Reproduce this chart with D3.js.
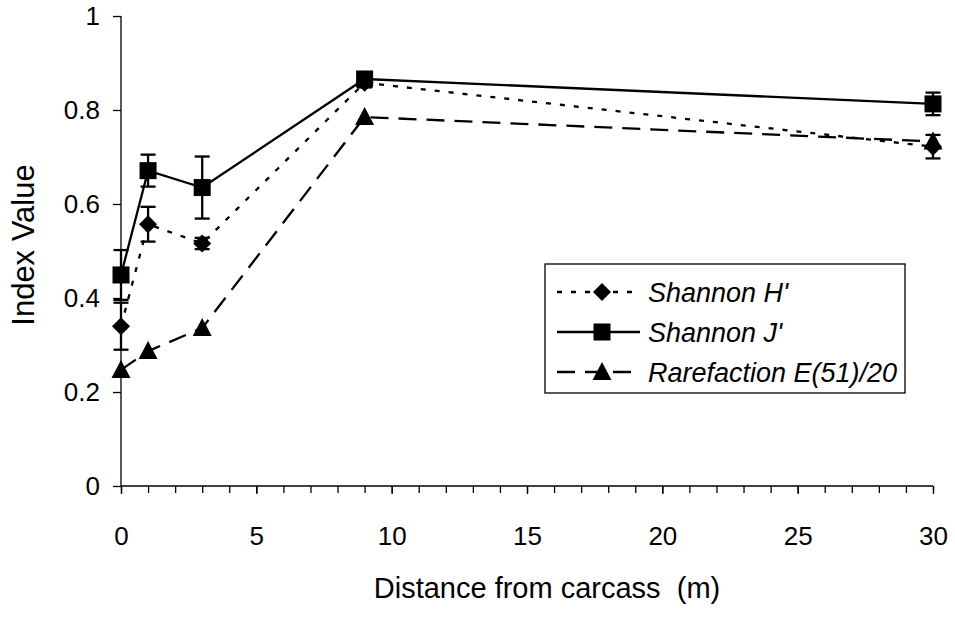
<!DOCTYPE html>
<html>
  <head>
    <meta charset="utf-8" />
    <title>Index Value</title>
    <script src="https://d3js.org/d3.v7.min.js"></script>
    <style>
        body{
            margin:0;
            background:#fff;
        }
        text{
            font-family: "Liberation Sans", Arial, sans-serif;
            fill:#000;
        }
    </style>
  </head>
  <body>
    <svg id="chart"></svg>

    <script>
      // data
      var distance = [0, 1, 3, 9, 30];
      var shannonH = [0.34, 0.557, 0.516, 0.858, 0.722];
      var shannonHErr = [0.05, 0.037, 0.012, 0.01, 0.025];
      var shannonJ = [0.449, 0.671, 0.635, 0.866, 0.813];
      var shannonJErr = [0.053, 0.034, 0.066, 0.01, 0.024];
      var rarefaction = [0.247, 0.287, 0.336, 0.785, 0.733];
      var seriesNames = ["Shannon H'", "Shannon J'", "Rarefaction E(51)/20"];
      var yTicks = [0, 0.2, 0.4, 0.6, 0.8, 1];
      var xTicks = [0, 5, 10, 15, 20, 25, 30];

      var width = 955;
      var height = 617;
      var margin = {top: 16, right: 22, bottom: 131, left: 121};

      var svg = d3.select("#chart")
        .attr("width", width)
        .attr("height", height);

      var x = d3.scaleLinear()
        .domain([0, 30])
        .range([margin.left, width - margin.right]);

      var y = d3.scaleLinear()
        .domain([0, 1])
        .range([height - margin.bottom, margin.top]);

      // y axis
      var yAxis = d3.axisLeft(y)
        .tickValues(yTicks)
        .tickSize(8)
        .tickPadding(13)
        .tickFormat(function(d){ return d === 0 || d === 1 ? d : d.toFixed(1); });
      var gy = svg.append("g")
        .attr("transform", "translate(" + margin.left + ",0)")
        .call(yAxis);
      gy.select(".domain").attr("d", "M0," + y(1) + "V" + y(0));

      // x axis, minor ticks every metre
      var xMinor = d3.axisBottom(x)
        .tickValues(d3.range(0, 31))
        .tickSize(7)
        .tickFormat("");
      svg.append("g")
        .attr("transform", "translate(0," + y(0) + ")")
        .call(xMinor)
        .select(".domain").attr("d", "M" + x(0) + ",0H" + x(30));

      var xAxis = d3.axisBottom(x)
        .tickValues(xTicks)
        .tickSize(8)
        .tickPadding(33);
      svg.append("g")
        .attr("transform", "translate(0," + y(0) + ")")
        .call(xAxis)
        .select(".domain").remove();

      svg.selectAll(".tick text")
        .style("font-size", "26px")
        .style("font-family", "'Liberation Sans', Arial, sans-serif");
      svg.selectAll(".tick line, .domain").attr("stroke", "#000").attr("stroke-width", 1.3);

      // axis titles
      svg.append("text")
        .attr("x", 547)
        .attr("y", 598)
        .attr("text-anchor", "middle")
        .style("font-size", "29px")
        .style("white-space", "pre")
        .text("Distance from carcass  (m)");

      svg.append("text")
        .attr("transform", "translate(34,245) rotate(-90)")
        .attr("text-anchor", "middle")
        .style("font-size", "31px")
        .text("Index Value");

      // marker shapes
      function marker(g, type) {
        if (type === "diamond") {
          g.append("path").attr("d", "M0,-9L9,0L0,9L-9,0Z");
        } else if (type === "square") {
          g.append("rect").attr("x", -8.5).attr("y", -8.5).attr("width", 17).attr("height", 17);
        } else {
          g.append("path").attr("d", "M0,-10L9.5,8L-9.5,8Z");
        }
      }

      var series = [
        {name: seriesNames[2], values: rarefaction, err: null, dash: "18,10", type: "triangle"},
        {name: seriesNames[0], values: shannonH, err: shannonHErr, dash: "5,9", type: "diamond"},
        {name: seriesNames[1], values: shannonJ, err: shannonJErr, dash: null, type: "square"}
      ];

      var line = d3.line()
        .x(function(d){ return x(d[0]); })
        .y(function(d){ return y(d[1]); });

      var plot = svg.append("g");

      series.forEach(function(s) {
        var pts = distance.map(function(d, i){ return [d, s.values[i]]; });
        var g = plot.append("g");
        g.append("path")
          .datum(pts)
          .attr("d", line)
          .attr("fill", "none")
          .attr("stroke", "#000")
          .attr("stroke-width", 2.3)
          .attr("stroke-dasharray", s.dash);

        if (s.err) {
          var eb = g.selectAll(".err")
            .data(pts)
            .enter().append("g")
            .attr("class", "err")
            .attr("stroke", "#000")
            .attr("stroke-width", 2.3);
          eb.append("line")
            .attr("x1", function(d){ return x(d[0]); })
            .attr("x2", function(d){ return x(d[0]); })
            .attr("y1", function(d, i){ return y(d[1] + s.err[i]); })
            .attr("y2", function(d, i){ return y(d[1] - s.err[i]); });
          eb.append("line")
            .attr("x1", function(d){ return x(d[0]) - 7.5; })
            .attr("x2", function(d){ return x(d[0]) + 7.5; })
            .attr("y1", function(d, i){ return y(d[1] + s.err[i]); })
            .attr("y2", function(d, i){ return y(d[1] + s.err[i]); });
          eb.append("line")
            .attr("x1", function(d){ return x(d[0]) - 7.5; })
            .attr("x2", function(d){ return x(d[0]) + 7.5; })
            .attr("y1", function(d, i){ return y(d[1] - s.err[i]); })
            .attr("y2", function(d, i){ return y(d[1] - s.err[i]); });
        }

        g.selectAll(".pt")
          .data(pts)
          .enter().append("g")
          .attr("class", "pt")
          .attr("fill", "#000")
          .attr("transform", function(d){ return "translate(" + x(d[0]) + "," + y(d[1]) + ")"; })
          .each(function(){ marker(d3.select(this), s.type); });
      });

      // legend
      var legend = svg.append("g").attr("transform", "translate(545,264)");
      legend.append("rect")
        .attr("width", 360)
        .attr("height", 129)
        .attr("fill", "#fff")
        .attr("stroke", "#000")
        .attr("stroke-width", 1.3);

      var legendOrder = [series[1], series[2], series[0]];
      legendOrder.forEach(function(s, i) {
        var row = legend.append("g").attr("transform", "translate(0," + (28 + i * 40) + ")");
        row.append("line")
          .attr("x1", 12).attr("x2", 95)
          .attr("stroke", "#000")
          .attr("stroke-width", 2.3)
          .attr("stroke-dasharray", s.dash);
        var m = row.append("g").attr("transform", "translate(57,0)").attr("fill", "#000");
        marker(m, s.type);
        row.append("text")
          .attr("x", 103)
          .attr("dy", "0.36em")
          .style("font-size", "27px")
          .style("font-style", "italic")
          .text(s.name);
      });
    </script>
  </body>
</html>
